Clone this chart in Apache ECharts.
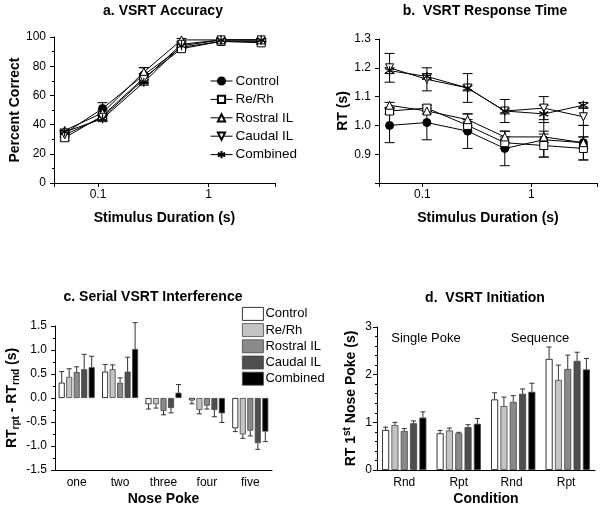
<!DOCTYPE html>
<html>
<head>
<meta charset="utf-8">
<script src="https://cdn.jsdelivr.net/npm/echarts@6/dist/echarts.min.js"></script>
<style>
html, body { margin: 0; background: #fff; }
#myChart { width: 600px; height: 507px; }
</style>
</head>
<body>
<div id="myChart"></div>
<script>
var FONT = 'Liberation Sans, Arial, Helvetica, sans-serif';

var groups = ['Control', 'Re/Rh', 'Rostral IL', 'Caudal IL', 'Combined'];
var durations = [0.05, 0.11, 0.26, 0.57, 1.3, 3.0];

// a. VSRT accuracy (% correct) and SEM
var accControl = [34, 51, 74, 93, 97, 97];
var accReRh = [31, 46, 72, 92, 97, 96];
var accRostral = [36, 48, 76, 98, 98, 98];
var accCaudal = [33, 45, 71, 95, 98, 98];
var accCombined = [35, 44, 69, 94, 98, 98];
var accErrControl = [2, 4, 5, 1, 1, 1];
var accErrReRh = [2, 2, 3, 1, 1, 1];
var accErrRostral = [1, 2, 3, 1, 1, 1];
var accErrCaudal = [2, 2, 3, 1, 1, 1];
var accErrCombined = [1, 2, 2, 1, 1, 1];

// b. response time (s) and SEM
var rtControl = [1.00, 1.01, 0.98, 0.92, 0.95, 0.94];
var rtReRh = [1.05, 1.06, 1.00, 0.94, 0.93, 0.92];
var rtRostral = [1.07, 1.05, 1.02, 0.96, 0.96, 0.94];
var rtCaudal = [1.20, 1.16, 1.13, 1.05, 1.06, 1.03];
var rtCombined = [1.19, 1.17, 1.13, 1.05, 1.04, 1.07];
var rtErrControl = [0.06, 0.06, 0.06, 0.06, 0.06, 0.06];
var rtErrReRh = [0.01, 0.01, 0.02, 0.02, 0.04, 0.04];
var rtErrRostral = [0.01, 0.01, 0.02, 0.02, 0.02, 0.02];
var rtErrCaudal = [0.05, 0.04, 0.05, 0.04, 0.04, 0.03];
var rtErrCombined = [0.01, 0.01, 0.01, 0.01, 0.03, 0.01];

// c. serial interference RTrpt - RTrnd (s)
var pokes = ['one', 'two', 'three', 'four', 'five'];
var intControl = [0.32, 0.55, -0.13, -0.05, -0.63];
var intReRh = [0.44, 0.60, -0.13, -0.25, -0.76];
var intRostral = [0.54, 0.32, -0.27, -0.16, -0.68];
var intCaudal = [0.60, 0.55, -0.21, -0.25, -0.94];
var intCombined = [0.64, 1.02, 0.11, -0.32, -0.70];
var intErrControl = [0.23, 0.15, 0.10, 0.07, 0.07];
var intErrReRh = [0.17, 0.09, 0.08, 0.08, 0.08];
var intErrRostral = [0.11, 0.10, 0.08, 0.07, 0.11];
var intErrCaudal = [0.31, 0.30, 0.10, 0.14, 0.13];
var intErrCombined = [0.23, 0.55, 0.17, 0.19, 0.21];

// d. initiation RT of 1st nose poke (s)
var conditions = ['Rnd', 'Rpt', 'Rnd ', 'Rpt '];
var initControl = [0.84, 0.77, 1.48, 2.33];
var initReRh = [0.94, 0.83, 1.34, 1.89];
var initRostral = [0.82, 0.77, 1.43, 2.12];
var initCaudal = [0.98, 0.90, 1.60, 2.29];
var initCombined = [1.10, 0.97, 1.64, 2.11];
var initErrControl = [0.06, 0.06, 0.14, 0.25];
var initErrReRh = [0.06, 0.05, 0.19, 0.31];
var initErrRostral = [0.05, 0.02, 0.13, 0.29];
var initErrCaudal = [0.05, 0.05, 0.10, 0.18];
var initErrCombined = [0.12, 0.11, 0.18, 0.23];

var accAll = [accControl, accReRh, accRostral, accCaudal, accCombined];
var accErrAll = [accErrControl, accErrReRh, accErrRostral, accErrCaudal, accErrCombined];
var rtAll = [rtControl, rtReRh, rtRostral, rtCaudal, rtCombined];
var rtErrAll = [rtErrControl, rtErrReRh, rtErrRostral, rtErrCaudal, rtErrCombined];
var intAll = [intControl, intReRh, intRostral, intCaudal, intCombined];
var intErrAll = [intErrControl, intErrReRh, intErrRostral, intErrCaudal, intErrCombined];
var initAll = [initControl, initReRh, initRostral, initCaudal, initCombined];
var initErrAll = [initErrControl, initErrReRh, initErrRostral, initErrCaudal, initErrCombined];

var symbols = ['circle', 'rect', 'triangle', 'path://M0,0L10,0L5,9Z',
  'path://M5,0L5,10M0.7,2.5L9.3,7.5M0.7,7.5L9.3,2.5'];
var symFill = ['#000', '#fff', '#fff', '#fff', 'none'];
var barColors = ['#ffffff', '#c4c4c4', '#8a8a8a', '#4e4e4e', '#000000'];

function lineErr(params, api) {
  var top = api.coord([api.value(0), api.value(2)]);
  var bot = api.coord([api.value(0), api.value(1)]);
  var st = { stroke: '#000', lineWidth: 1 };
  return { type: 'group', children: [
    { type: 'line', shape: { x1: top[0], y1: top[1], x2: bot[0], y2: bot[1] }, style: st },
    { type: 'line', shape: { x1: top[0] - 5, y1: top[1], x2: top[0] + 5, y2: top[1] }, style: st },
    { type: 'line', shape: { x1: bot[0] - 5, y1: bot[1], x2: bot[0] + 5, y2: bot[1] }, style: st }
  ]};
}

function barErr(stride, k) {
  return function (params, api) {
    var v = api.value(1), e = api.value(2);
    var p0 = api.coord([api.value(0), v]);
    var p1 = api.coord([api.value(0), v >= 0 ? v + e : v - e]);
    var x = p0[0] + (k - 2) * stride;
    var st = { stroke: '#333', lineWidth: 1 };
    return { type: 'group', children: [
      { type: 'line', shape: { x1: x, y1: p0[1], x2: x, y2: p1[1] }, style: st },
      { type: 'line', shape: { x1: x - 2.5, y1: p1[1], x2: x + 2.5, y2: p1[1] }, style: st }
    ]};
  };
}

var series = [];
groups.forEach(function (g, k) {
  var common = {
    type: 'line', symbol: symbols[k], symbolSize: k === 4 ? 9 : 8,
    lineStyle: { color: '#000', width: 1 },
    itemStyle: { color: symFill[k], borderColor: '#000', borderWidth: k === 4 ? 1.2 : 1 },
    z: 3
  };
  series.push(Object.assign({}, common, {
    name: g, xAxisIndex: 0, yAxisIndex: 0,
    data: durations.map(function (d, i) { return [d, accAll[k][i]]; })
  }));
  series.push({
    type: 'custom', xAxisIndex: 0, yAxisIndex: 0, renderItem: lineErr, z: 2,
    data: durations.map(function (d, i) { return [d, accAll[k][i] - accErrAll[k][i], accAll[k][i] + accErrAll[k][i]]; })
  });
  series.push(Object.assign({}, common, {
    name: 'b|' + g, xAxisIndex: 1, yAxisIndex: 1,
    data: durations.map(function (d, i) { return [d, rtAll[k][i]]; })
  }));
  series.push({
    type: 'custom', xAxisIndex: 1, yAxisIndex: 1, renderItem: lineErr, z: 2,
    data: durations.map(function (d, i) { return [d, rtAll[k][i] - rtErrAll[k][i], rtAll[k][i] + rtErrAll[k][i]]; })
  });
  var barStyle = { color: barColors[k], borderColor: k === 0 ? '#000' : '#444', borderWidth: 0.8 };
  series.push({
    name: 'c|' + g, type: 'bar', xAxisIndex: 2, yAxisIndex: 2,
    barWidth: 6, barGap: '25%', itemStyle: barStyle, data: intAll[k]
  });
  series.push({
    type: 'custom', xAxisIndex: 2, yAxisIndex: 2, renderItem: barErr(7.5, k), z: 3,
    data: pokes.map(function (p, i) { return [i, intAll[k][i], intErrAll[k][i]]; })
  });
  series.push({
    name: 'd|' + g, type: 'bar', xAxisIndex: 3, yAxisIndex: 3,
    barWidth: 7, barGap: '33%', itemStyle: barStyle, data: initAll[k]
  });
  series.push({
    type: 'custom', xAxisIndex: 3, yAxisIndex: 3, renderItem: barErr(9.33, k), z: 3,
    data: conditions.map(function (c, i) { return [i, initAll[k][i], initErrAll[k][i]]; })
  });
});

var axisLine = { show: true, lineStyle: { color: '#000', width: 1 } };
var axisTick = { show: true, length: 4, lineStyle: { color: '#000' } };
var labelStyle = { color: '#000', fontSize: 12, fontFamily: FONT };
var nameStyle = { color: '#000', fontSize: 14, fontWeight: 'bold', fontFamily: FONT };

function logLabel(v) {
  if (Math.abs(v - 0.1) < 1e-9) return '0.1';
  if (Math.abs(v - 1) < 1e-9) return '1';
  return '';
}

function logAxis(idx) {
  return {
    type: 'log', gridIndex: idx, min: 0.04, max: 4, logBase: 10,
    axisLine: axisLine, axisTick: axisTick, splitLine: { show: false },
    axisLabel: Object.assign({ formatter: logLabel, margin: 6 }, labelStyle),
    name: 'Stimulus Duration (s)', nameLocation: 'middle', nameGap: 28, nameTextStyle: nameStyle
  };
}

function catAxis(idx, data, name) {
  return {
    type: 'category', gridIndex: idx, data: data,
    axisLine: Object.assign({ onZero: false }, axisLine), axisTick: { show: false },
    axisLabel: Object.assign({ margin: 7 }, labelStyle),
    name: name, nameLocation: 'middle', nameGap: 22, nameTextStyle: nameStyle
  };
}

var option = {
  backgroundColor: '#fff',
  animation: false,
  textStyle: { fontFamily: FONT },
  grid: [
    { left: 54, top: 37, width: 221, height: 146 },
    { left: 379, top: 39, width: 218, height: 144 },
    { left: 55, top: 326, width: 217, height: 144 },
    { left: 377, top: 327, width: 218, height: 144 }
  ],
  xAxis: [
    logAxis(0),
    logAxis(1),
    catAxis(2, pokes, 'Nose Poke'),
    catAxis(3, conditions, 'Condition')
  ],
  yAxis: [
    {
      type: 'value', gridIndex: 0, min: 0, max: 100, interval: 20,
      axisLine: axisLine, axisTick: axisTick, splitLine: { show: false },
      minorTick: { show: true, splitNumber: 2, length: 2, lineStyle: { color: '#000' } },
      axisLabel: labelStyle,
      name: 'Percent Correct', nameLocation: 'middle', nameGap: 29, nameTextStyle: nameStyle
    },
    {
      type: 'value', gridIndex: 1, min: 0.8, max: 1.3, interval: 0.1,
      axisLine: axisLine, axisTick: axisTick, splitLine: { show: false },
      axisLabel: Object.assign({ formatter: function (v) { return v < 0.85 ? '' : v.toFixed(1); } }, labelStyle),
      name: 'RT (s)', nameLocation: 'middle', nameGap: 29, nameTextStyle: nameStyle
    },
    {
      type: 'value', gridIndex: 2, min: -1.5, max: 1.5, interval: 0.5,
      axisLine: axisLine, axisTick: axisTick, splitLine: { show: false },
      minorTick: { show: true, splitNumber: 2, length: 2, lineStyle: { color: '#000' } },
      axisLabel: Object.assign({ formatter: function (v) { return v.toFixed(1); } }, labelStyle),
      name: '{m|RT}{s|rpt}{m| - RT}{s|rnd}{m| (s)}', nameLocation: 'middle', nameGap: 34,
      nameTextStyle: Object.assign({}, nameStyle, {
        rich: {
          m: { fontSize: 14, fontWeight: 'bold', fontFamily: FONT, color: '#000', lineHeight: 18 },
          s: { fontSize: 10, fontWeight: 'bold', fontFamily: FONT, color: '#000', verticalAlign: 'bottom', lineHeight: 18 }
        }
      })
    },
    {
      type: 'value', gridIndex: 3, min: 0, max: 3, interval: 1,
      axisLine: axisLine, axisTick: axisTick, splitLine: { show: false },
      minorTick: { show: true, splitNumber: 5, length: 2, lineStyle: { color: '#000' } },
      axisLabel: Object.assign({ margin: 5 }, labelStyle),
      name: '{m|RT 1}{s|st}{m| Nose Poke (s)}', nameLocation: 'middle', nameGap: 17,
      nameTextStyle: Object.assign({}, nameStyle, {
        rich: {
          m: { fontSize: 14, fontWeight: 'bold', fontFamily: FONT, color: '#000', lineHeight: 18 },
          s: { fontSize: 10, fontWeight: 'bold', fontFamily: FONT, color: '#000', verticalAlign: 'top', lineHeight: 18 }
        }
      })
    }
  ],
  legend: [
    {
      data: groups, orient: 'vertical', left: 210, top: 74, padding: 0, selectedMode: false,
      itemWidth: 22, itemHeight: 9, itemGap: 4.4,
      lineStyle: { width: 1 },
      textStyle: { color: '#000', fontSize: 13.5, fontFamily: FONT, padding: [0, 0, 0, -2] }
    },
    {
      data: groups.map(function (g) { return 'c|' + g; }),
      formatter: function (n) { return n.slice(2); },
      orient: 'vertical', left: 242, top: 307, padding: 0, selectedMode: false, icon: 'rect',
      itemWidth: 21, itemHeight: 13, itemGap: 2.4,
      itemStyle: { borderWidth: 0.8 },
      textStyle: { color: '#000', fontSize: 13, fontFamily: FONT, padding: [0, 0, 0, -3] }
    }
  ],
  graphic: [
    { type: 'text', x: 163, y: 11, style: { text: 'a. VSRT Accuracy', align: 'center', verticalAlign: 'middle', font: 'bold 14px ' + FONT, fill: '#000' } },
    { type: 'text', x: 485, y: 11, style: { text: 'b.  VSRT Response Time', align: 'center', verticalAlign: 'middle', font: 'bold 14px ' + FONT, fill: '#000' } },
    { type: 'text', x: 153, y: 297, style: { text: 'c. Serial VSRT Interference', align: 'center', verticalAlign: 'middle', font: 'bold 14px ' + FONT, fill: '#000' } },
    { type: 'text', x: 485, y: 298, style: { text: 'd.  VSRT Initiation', align: 'center', verticalAlign: 'middle', font: 'bold 14px ' + FONT, fill: '#000' } },
    { type: 'text', x: 426, y: 338, style: { text: 'Single Poke', align: 'center', verticalAlign: 'middle', font: '13px ' + FONT, fill: '#000' } },
    { type: 'text', x: 540, y: 338, style: { text: 'Sequence', align: 'center', verticalAlign: 'middle', font: '13px ' + FONT, fill: '#000' } }
  ],
  series: series
};

var myChart = echarts.init(document.getElementById('myChart'));
myChart.setOption(option);
</script>
</body>
</html>
